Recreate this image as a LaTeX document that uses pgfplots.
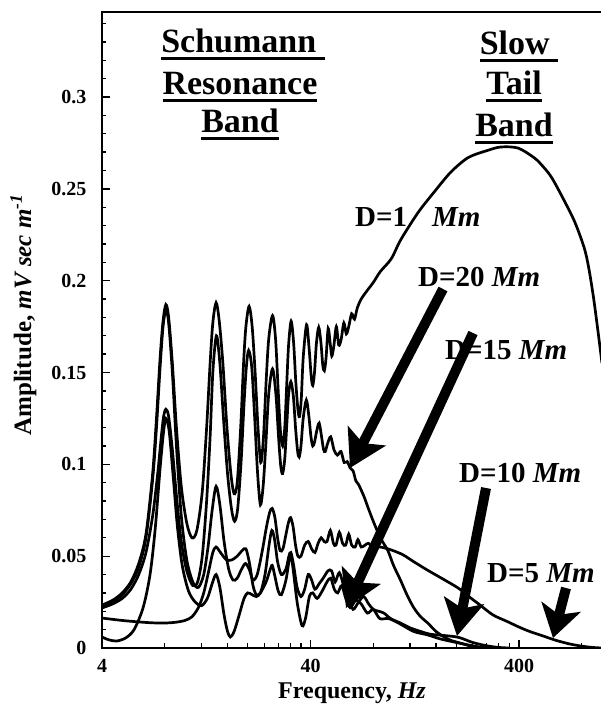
\documentclass[border=0pt]{standalone}
\usepackage{fontspec}
\setmainfont{Liberation Serif}
\usepackage{graphicx}
\usepackage{pgfplots}
\pgfplotsset{compat=1.18}
\usetikzlibrary{arrows.meta}
\newcommand\ul[1]{\setbox0\hbox{#1}\rlap{\rule[-7pt]{\wd0}{3pt}}\box0}
\begin{document}
\begin{tikzpicture}
\begin{axis}[at={(102pt,56pt)}, anchor=south west, scale only axis,
 width=500pt, height=636pt,
 xmode=log, xmin=4, xmax=1000, ymin=0, ymax=0.3463,
 xtick={4,40,400}, xticklabels={4,40,400},
 minor xtick={8,12,16,20,24,28,32,36,80,120,160,200,240,280,320,360,800},
 ytick={0,0.05,0.1,0.15,0.2,0.25,0.3},
 yticklabels={0,0.05,0.1,0.15,0.2,0.25,0.3},
 minor ytick={0.01,0.02,0.03,0.04,0.06,0.07,0.08,0.09,0.11,0.12,0.13,0.14,0.16,0.17,0.18,0.19,0.21,0.22,0.23,0.24,0.26,0.27,0.28,0.29,0.31,0.32,0.33,0.34},
 tick align=inside, tick pos=left,
 major tick length=8pt, minor tick length=4.5pt,
 tick style={black, line width=1.3pt},
 axis line style={line width=2.5pt},
 tick label style={font=\fontsize{20}{20}\selectfont\bfseries},
 yticklabel style={xshift=-12pt},
 xticklabel style={yshift=-9pt, inner sep=2pt},
]
% D = 1 Mm
\addplot[black, line width=2.7pt, smooth] coordinates {(4,0.0234)(4.5,0.026)(5,0.030)(5.5,0.036)(6,0.046)(6.5,0.062)(7.0,0.095)(7.3,0.125)(7.6,0.158)(7.85,0.178)(8.1,0.187)(8.35,0.18)(8.7,0.155)(9.1,0.12)(9.6,0.088)(10.2,0.068)(10.8,0.060)(11.4,0.064)(12.1,0.085)(12.7,0.12)(13.2,0.155)(13.6,0.177)(14.1,0.188)(14.6,0.178)(15.2,0.155)(15.9,0.12)(16.6,0.095)(17.2,0.084)(17.8,0.09)(18.5,0.12)(19.1,0.155)(19.6,0.175)(20.3,0.186)(21.0,0.175)(21.7,0.15)(22.4,0.12)(23.1,0.101)(23.8,0.115)(24.5,0.145)(25.2,0.168)(26.3,0.181)(27.2,0.168)(28.0,0.14)(28.7,0.118)(29.4,0.110)(30.1,0.12)(30.8,0.145)(31.4,0.165)(32.3,0.178)(33.2,0.166)(34.0,0.145)(34.8,0.13)(35.4,0.126)(36.1,0.135)(36.9,0.158)(38.3,0.176)(39.4,0.163)(40.3,0.148)(41.0,0.143)(41.8,0.150)(42.7,0.166)(43.8,0.1746)(44.9,0.166)(45.8,0.154)(46.6,0.151)(47.5,0.158)(48.6,0.174)(49.7,0.166)(50.6,0.159)(51.7,0.164)(53.2,0.175)(54.6,0.165)(56.1,0.168)(57.8,0.177)(59.4,0.171)(61,0.175)(63,0.182)(65,0.179)(67,0.185)(70,0.190)(75.2,0.195)(80,0.199)(86.5,0.205)(97.7,0.212)(108,0.222)(131,0.237)(156,0.248)(188,0.259)(228,0.267)(284,0.271)(328,0.2728)(396,0.2722)(472,0.267)(509,0.2635)(571,0.2565)(656,0.244)(740,0.232)(821,0.218)(862,0.2075)(910,0.191)(959,0.1715)(1000,0.155)};
% D = 20 Mm
\addplot[black, line width=2.7pt, smooth] coordinates {(4,0.0218)(4.5,0.024)(5,0.027)(5.5,0.032)(6,0.040)(6.5,0.052)(7.0,0.072)(7.4,0.095)(7.7,0.115)(7.9,0.126)(8.1,0.130)(8.35,0.126)(8.7,0.108)(9.1,0.083)(9.6,0.058)(10.2,0.042)(10.9,0.034)(11.5,0.036)(12.1,0.05)(12.7,0.08)(13.2,0.115)(13.6,0.150)(14.15,0.170)(14.7,0.155)(15.3,0.125)(16.0,0.095)(16.7,0.076)(17.3,0.069)(17.9,0.076)(18.6,0.102)(19.2,0.133)(19.7,0.153)(20.2,0.162)(20.9,0.153)(21.6,0.125)(22.3,0.095)(23.0,0.078)(23.7,0.088)(24.4,0.11)(25.2,0.138)(26.3,0.152)(27.3,0.138)(28.1,0.115)(28.8,0.099)(29.4,0.095)(30.1,0.103)(30.8,0.122)(31.4,0.138)(32.2,0.145)(33.1,0.137)(33.9,0.12)(34.7,0.107)(35.3,0.104)(36.0,0.11)(36.9,0.125)(38.2,0.135)(39.3,0.126)(40.2,0.115)(41.0,0.110)(41.8,0.112)(42.8,0.118)(44,0.1225)(45.2,0.115)(46.2,0.108)(47.1,0.107)(48.2,0.111)(50,0.115)(51.8,0.108)(53.8,0.105)(56,0.107)(58,0.101)(60,0.1015)(62,0.098)(64,0.0965)(66,0.091)(68,0.089)(70,0.086)(72.5,0.082)(75.2,0.077)(80,0.069)(86.5,0.060)(94,0.053)(100,0.045)(108,0.037)(116,0.029)(125,0.022)(135,0.017)(146,0.0136)(160,0.009)(175,0.006)(190,0.004)(209,0.0027)(235,0.001)(260,0.0002)(300,0)};
% D = 5 Mm
\addplot[black, line width=2.7pt, smooth] coordinates {(4,0.022)(4.5,0.025)(5,0.029)(5.5,0.035)(6,0.044)(6.5,0.06)(7.0,0.092)(7.3,0.12)(7.6,0.153)(7.85,0.175)(8.1,0.184)(8.35,0.177)(8.7,0.15)(9.1,0.11)(9.6,0.072)(10.2,0.048)(10.9,0.036)(11.6,0.033)(12.3,0.040)(12.9,0.055)(13.5,0.075)(14.1,0.088)(14.7,0.078)(15.4,0.058)(16.2,0.043)(17.0,0.037)(17.8,0.038)(18.7,0.043)(19.5,0.046)(20.3,0.043)(21.2,0.037)(22.2,0.040)(23.4,0.052)(24.6,0.066)(25.5,0.074)(26.2,0.076)(27.0,0.071)(27.8,0.06)(28.6,0.053)(29.5,0.054)(30.4,0.061)(31.3,0.068)(32.1,0.071)(33.0,0.066)(33.9,0.056)(34.8,0.050)(36,0.050)(37.5,0.056)(39,0.058)(40.5,0.054)(42,0.052)(43.5,0.057)(45,0.06)(46.5,0.058)(48,0.058)(49.8,0.064)(51.5,0.057)(53,0.056)(55,0.063)(57,0.057)(59,0.056)(61,0.062)(63,0.056)(65.5,0.055)(67.5,0.059)(70,0.055)(73,0.056)(76,0.057)(80,0.054)(85,0.055)(94,0.054)(110,0.051)(125,0.047)(145,0.0425)(170,0.038)(204,0.0327)(230,0.028)(260,0.0234)(300,0.018)(350,0.0145)(400,0.0114)(450,0.009)(520,0.0066)(600,0.0042)(700,0.0022)(800,0.001)(900,0.0003)(1000,0)};
% D = 10 Mm
\addplot[black, line width=2.7pt, smooth] coordinates {(4,0.0163)(5,0.015)(6,0.0142)(7,0.0137)(8,0.0136)(9,0.014)(10,0.015)(10.8,0.017)(11.6,0.022)(12.3,0.030)(13,0.042)(13.6,0.052)(14.1,0.055)(14.8,0.052)(15.8,0.048)(16.8,0.048)(17.8,0.050)(18.8,0.053)(19.6,0.054)(20.4,0.046)(21.2,0.034)(22,0.029)(23,0.030)(24.2,0.040)(25.3,0.056)(26.1,0.064)(26.9,0.059)(27.8,0.047)(29,0.040)(30.5,0.043)(31.5,0.050)(32.2,0.052)(33.2,0.045)(34.5,0.033)(36,0.028)(37.5,0.032)(39,0.040)(40.5,0.037)(42,0.032)(44,0.035)(46,0.038)(48.5,0.042)(50.5,0.042)(52.5,0.036)(55,0.041)(58,0.033)(61,0.027)(64,0.021)(68,0.025)(72,0.028)(76,0.024)(80,0.021)(85,0.020)(90,0.019)(97,0.016)(108,0.0136)(120,0.011)(135,0.009)(150,0.0075)(175,0.0068)(205,0.0058)(240,0.003)(280,0.0012)(320,0.0003)(360,0)};
% D = 15 Mm
\addplot[black, line width=2.7pt, smooth] coordinates {(4,0.006)(4.3,0.0045)(4.7,0.0038)(5.2,0.0055)(5.7,0.010)(6.3,0.022)(6.8,0.040)(7.2,0.065)(7.6,0.098)(7.9,0.118)(8.1,0.125)(8.4,0.118)(8.8,0.092)(9.2,0.066)(9.7,0.045)(10.4,0.031)(11.2,0.025)(12,0.023)(12.8,0.027)(13.5,0.035)(14.1,0.040)(14.7,0.033)(15.4,0.018)(16.0,0.009)(16.5,0.006)(17.2,0.009)(18.2,0.018)(19.2,0.027)(20,0.030)(21,0.029)(22,0.028)(23,0.030)(24.5,0.036)(25.5,0.042)(26.2,0.045)(27,0.039)(28,0.031)(29,0.029)(30.5,0.037)(31.6,0.048)(32.2,0.051)(33,0.043)(34.5,0.025)(36,0.014)(36.8,0.012)(38,0.017)(39.5,0.028)(41,0.030)(43,0.027)(45.5,0.031)(48,0.036)(50,0.038)(52,0.032)(54,0.030)(56.5,0.034)(59,0.027)(62,0.022)(66,0.026)(70,0.024)(75,0.019)(80,0.021)(86,0.016)(95,0.016)(108,0.013)(125,0.009)(145,0.0072)(167,0.005)(200,0.003)(232,0.0015)(260,0.0005)(300,0)};
\end{axis}
% arrows
\draw[line width=10pt, -{Stealth[length=36pt,width=42pt,inset=8pt]}] (443pt,415pt) -- (350pt,236pt);
\draw[line width=10pt, -{Stealth[length=36pt,width=42pt,inset=8pt]}] (473pt,371pt) -- (346pt,96pt);
\draw[line width=10pt, -{Stealth[length=36pt,width=40pt,inset=8pt]}] (486pt,216pt) -- (457pt,68pt);
\draw[line width=10pt, -{Stealth[length=32pt,width=40pt,inset=8pt]}] (566pt,116pt) -- (553pt,66pt);
% labels
\begin{scope}[every node/.style={inner sep=0pt, anchor=base west, font=\fontsize{29}{29}\selectfont\bfseries}]
\node at (355pt,477pt) {D=1};
\node at (432pt,477pt) {\itshape Mm};
\node at (418pt,417pt) {D=20 \textit{Mm}};
\node at (445pt,344pt) {D=15 \textit{Mm}};
\node at (459pt,221pt) {D=10 \textit{Mm}};
\node at (487pt,121pt) {D=5 \textit{Mm}};
\end{scope}
\begin{scope}[every node/.style={inner sep=0pt, anchor=base, font=\fontsize{34}{34}\selectfont\bfseries}]
\node at (243pt,651pt) {\ul{Schumann\ }};
\node at (240pt,609pt) {\ul{Resonance}};
\node at (240pt,571pt) {\ul{Band}};
\node at (519pt,649pt) {\ul{Slow\ }};
\node at (514pt,609pt) {\ul{Tail}};
\node at (514pt,567pt) {\ul{Band}};
\end{scope}
\node[inner sep=0pt, anchor=base, font=\fontsize{24}{24}\selectfont\bfseries] at (352pt,5.5pt) {Frequency, \textit{Hz}};
\node[inner sep=0pt, anchor=base, rotate=90, font=\fontsize{25}{25}\selectfont\bfseries] at (31pt,389pt) {Amplitude, \textit{mV sec m}\textsuperscript{\textit{-1}}};
\pgfresetboundingbox
\path[use as bounding box] (0,0) rectangle (600pt,704pt);
\end{tikzpicture}
\end{document}
